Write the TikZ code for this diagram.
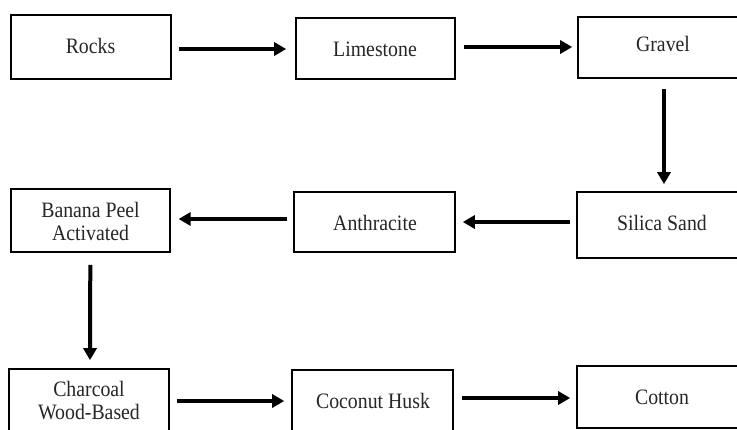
\documentclass[tikz,border=0pt]{standalone}
\usepackage{fontspec}
\setmainfont[FakeStretch=0.9]{Liberation Serif}
\usetikzlibrary{arrows.meta}
\begin{document}
\begin{tikzpicture}[x=1pt,y=-1pt,
  box/.style={draw=black,line width=1.6pt,rectangle,inner sep=0pt,fill=none},
  lbl/.style={inner sep=0pt,font=\fontsize{22pt}{23pt}\selectfont,text=black!85,align=center},
  arr/.style={draw=black,line width=4pt,-{Triangle[length=12pt,width=13pt]}}]
\useasboundingbox (0,0) rectangle (737,429);
\clip (0,0) rectangle (737,429);
\fill[white] (0,0) rectangle (737,429);
% boxes
\node[box,minimum width=160pt,minimum height=64pt] (rocks) at (90.7,47) {};
\node[box,minimum width=159pt,minimum height=61pt] (lime) at (375.5,48.5) {};
\node[box,minimum width=170pt,minimum height=61pt] (gravel) at (663,47.5) {};
\node[box,minimum width=170pt,minimum height=66pt] (silica) at (662,225) {};
\node[box,minimum width=161pt,minimum height=60pt] (anthr) at (374.5,222) {};
\node[box,minimum width=159pt,minimum height=63pt] (banana) at (90.3,220.5) {};
\node[box,minimum width=160pt,minimum height=64pt] (charcoal) at (89,401) {};
\node[box,minimum width=161pt,minimum height=62pt] (coconut) at (372.5,401) {};
\node[box,minimum width=170pt,minimum height=62pt] (cotton) at (662,397) {};
% labels
\node[lbl] (trocks) at (90.5,46) {Rocks};
\node[lbl] (tlime) at (375,49) {Limestone};
\node[lbl] (tgravel) at (663,44) {Gravel};
\node[lbl] (tsilica) at (662,223) {Silica Sand};
\node[lbl] (tanthr) at (375,223) {Anthracite};
\node[lbl] (tbanana) at (90.5,221.5) {Banana Peel\\Activated};
\node[lbl] (tcharcoal) at (89,401) {Charcoal\\Wood-Based};
\node[lbl] (tcoconut) at (373,401) {Coconut Husk};
\node[lbl] (tcotton) at (662,397) {Cotton};
% arrows
\draw[arr] ([xshift=7pt,yshift=-2pt]rocks.east) -- ([xshift=-9pt,yshift=-0.5pt]lime.west);
\draw[arr] ([xshift=8pt,yshift=1.5pt]lime.east) -- ([xshift=-5pt,yshift=0.5pt]gravel.west);
\draw[arr] ([xshift=1pt,yshift=-10pt]gravel.south) -- ([xshift=2pt,yshift=7pt]silica.north);
\draw[arr] ([xshift=-6pt,yshift=3pt]silica.west) -- ([xshift=7pt]anthr.east);
\draw[arr] ([xshift=-6pt,yshift=3pt]anthr.west) -- ([xshift=8pt,yshift=1.5pt]banana.east);
\draw[arr] ([yshift=-12pt]banana.south) -- ([xshift=1pt,yshift=8pt]charcoal.north);
\draw[arr] ([xshift=7pt]charcoal.east) -- ([xshift=-7pt]coconut.west);
\draw[arr] ([xshift=8pt,yshift=3pt]coconut.east) -- ([xshift=-6pt,yshift=-1pt]cotton.west);
\end{tikzpicture}
\end{document}
